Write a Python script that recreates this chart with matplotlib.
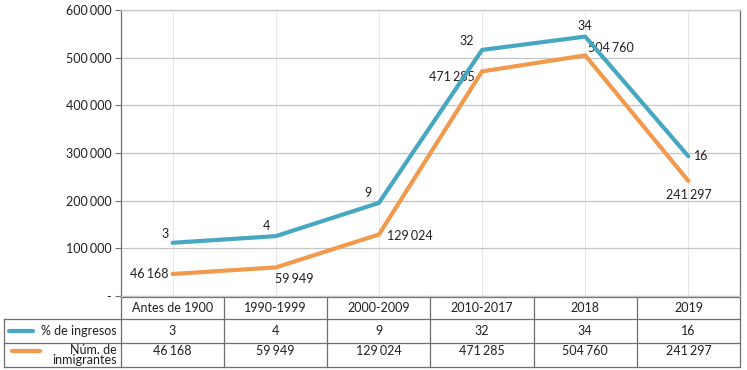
import matplotlib
matplotlib.use('Agg')
import matplotlib.pyplot as plt
from matplotlib.lines import Line2D

categories = ["Antes de 1900", "1990-1999", "2000-2009", "2010-2017", "2018", "2019"]
pct_ingresos = [3, 4, 9, 32, 34, 16]
num_inmigrantes = [46168, 59949, 129024, 471285, 504760, 241297]
y_ticks = [0, 100000, 200000, 300000, 400000, 500000, 600000]

TEAL = "#47a7c1"
ORANGE = "#f19a4e"
GRID = "#c4c4c4"
BORDER = "#6e6e6e"
TXT = "#231f20"
FONT = ["Lato", "DejaVu Sans"]
FS = 9
plt.rcParams['font.family'] = FONT


def fmt(v):
    # narrow gap as thousands separator
    return f"{v:,}".replace(",", "\u2006")


W, H = 747, 370
fig = plt.figure(figsize=(W / 100, H / 100), dpi=100)
L, R, T, B = 121, 740, 10, 296
ax = fig.add_axes([L / W, 1 - B / H, (R - L) / W, (B - T) / H])

x = list(range(len(categories)))
ax.set_xlim(-0.5, len(categories) - 0.5)
ax.set_ylim(0, 600000)
ax.set_yticks(y_ticks)
ax.set_yticklabels(["-"] + [fmt(v) for v in y_ticks[1:]], fontsize=FS, color=TXT)
ax.tick_params(axis='y', length=4, width=0.8, color=BORDER, pad=3)
ax.set_xticks([])
ax.grid(axis='y', color=GRID, linewidth=0.9)
for xi in x:
    ax.axvline(xi, color="#e6e6e6", linewidth=0.7, zorder=0)
for s in ["left", "right", "top", "bottom"]:
    ax.spines[s].set_color(BORDER if s in ("left", "right") else GRID)
    ax.spines[s].set_linewidth(0.9)
ax.set_axisbelow(True)

ax.plot(x, num_inmigrantes, color=ORANGE, linewidth=3, solid_capstyle='round', zorder=3)

ax2 = ax.twinx()
ax2.set_ylim(-5.0, 38.0)
ax2.set_axis_off()
ax2.plot(x, pct_ingresos, color=TEAL, linewidth=3, solid_capstyle='round', zorder=4)

# data labels
teal_off = [(-3, 2, 'right', 'bottom'), (-4, 3, 'right', 'bottom'), (-5, 3, 'right', 'bottom'),
            (-6, 2, 'right', 'bottom'), (0, 3, 'center', 'bottom'), (4, 0, 'left', 'center')]
for xi, v, (dx, dy, ha, va) in zip(x, pct_ingresos, teal_off):
    ax2.annotate(str(v), (xi, v), xytext=(dx, dy), textcoords='offset points',
                 ha=ha, va=va, fontsize=FS, color=TXT)
orange_off = [(-3, 0, 'right', 'center'), (13, -4, 'center', 'top'), (6, -1, 'left', 'center'),
              (-5, -4, 'right', 'center'), (2, 1, 'left', 'bottom'), (0, -6, 'center', 'top')]
for xi, v, (dx, dy, ha, va) in zip(x, num_inmigrantes, orange_off):
    ax.annotate(fmt(v), (xi, v), xytext=(dx, dy), textcoords='offset points',
                ha=ha, va=va, fontsize=FS, color=TXT)

# data table under the plot
tr = ax.get_xaxis_transform()
unit = (R - L) / len(categories)
x_left = -0.5 - (L - 4) / unit
rows_px = [296, 319, 343, 367]
ry = [-(p - B) / (B - T) for p in rows_px]


def hline(x0, x1, y, lw=0.9):
    ax.add_line(Line2D([x0, x1], [y, y], transform=tr, color=BORDER, linewidth=lw, clip_on=False))


def vline(xv, y0, y1, lw=0.9):
    ax.add_line(Line2D([xv, xv], [y0, y1], transform=tr, color=BORDER, linewidth=lw, clip_on=False))


hline(-0.5, len(categories) - 0.5, ry[0] - 0.004)
hline(x_left, len(categories) - 0.5, ry[1])
hline(x_left, len(categories) - 0.5, ry[2])
hline(x_left, len(categories) - 0.5, ry[3])
for k in range(len(categories) + 1):
    vline(k - 0.5, ry[0], ry[3])
vline(x_left, ry[1], ry[3])

mid = [(ry[i] + ry[i + 1]) / 2 for i in range(3)]
for xi, c, p, n in zip(x, categories, pct_ingresos, num_inmigrantes):
    ax.text(xi, mid[0], c, transform=tr, ha='center', va='center', fontsize=FS, color=TXT)
    ax.text(xi, mid[1], str(p), transform=tr, ha='center', va='center', fontsize=FS, color=TXT)
    ax.text(xi, mid[2] + 0.014, fmt(n), transform=tr, ha='center', va='center', fontsize=FS, color=TXT)

lbl_x = -0.5 - 4 / unit
ax.add_line(Line2D([x_left + 5 / unit, x_left + 29 / unit], [mid[1], mid[1]], transform=tr,
                   color=TEAL, linewidth=3, solid_capstyle='round', clip_on=False))
ax.text(lbl_x, mid[1], "% de ingresos", transform=tr, ha='right', va='center', fontsize=FS, color=TXT)
ax.add_line(Line2D([x_left + 8 / unit, x_left + 36 / unit], [mid[2] + 0.014, mid[2] + 0.014], transform=tr,
                   color=ORANGE, linewidth=3, solid_capstyle='round', clip_on=False))
ax.text(lbl_x, mid[2], "Núm. de\ninmigrantes", transform=tr, ha='right', va='center',
        fontsize=FS, color=TXT, linespacing=0.8)

fig.savefig("out.png", dpi=100)
